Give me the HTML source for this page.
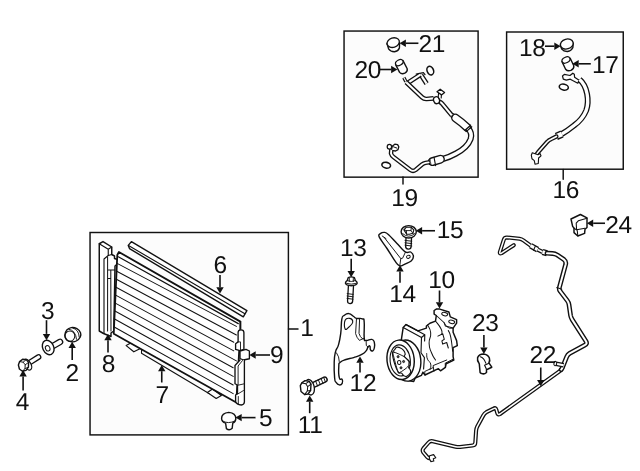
<!DOCTYPE html>
<html lang="en">
<head>
<meta charset="utf-8">
<title>A/C Condenser, Compressor &amp; Lines parts diagram</title>
<style>
html,body{margin:0;padding:0;background:#fff;}
body{width:640px;height:471px;overflow:hidden;}
svg{display:block;filter:grayscale(1);}
svg text{font-family:"Liberation Sans",sans-serif;fill:#111;letter-spacing:-0.3px;text-rendering:geometricPrecision;}
</style>
</head>
<body>
<svg width="640" height="471" viewBox="0 0 640 471">
<rect x="0" y="0" width="640" height="471" fill="#fff"/>
<rect x="344.05" y="31.05" width="134.05" height="146.10" stroke="#111" stroke-width="1.45" fill="#fcfcfc"/>
<path d="M403 177V184" stroke="#111" stroke-width="1.46" fill="none" stroke-linejoin="round" stroke-linecap="round" />
<rect x="506.6" y="32" width="116.65" height="137.20" stroke="#111" stroke-width="1.45" fill="#fcfcfc"/>
<path d="M563.2 169.5V179.3" stroke="#111" stroke-width="1.46" fill="none" stroke-linejoin="round" stroke-linecap="round" />
<rect x="90.05" y="232.5" width="198.35" height="202.40" stroke="#111" stroke-width="1.45" fill="#fcfcfc"/>
<path d="M288.5 328.9H298" stroke="#111" stroke-width="1.46" fill="none" stroke-linejoin="round" stroke-linecap="round" />
<path d="M99.25 243.75L103 241.6L111.75 247L111.75 254.5L114.5 256L114.5 258.5L117.5 259.5L117.3 264L115 266L113.8 331L111 333L111 336.5L103.5 333.5L99.25 331Z" stroke="#111" stroke-width="1.46" fill="#fff" stroke-linejoin="round" stroke-linecap="round" />
<path d="M99.25 243.75L108.25 249.3L111.75 247M108.25 249.3L108.25 255.5L104 259L104 333.5" stroke="#111" stroke-width="1.12" fill="none" stroke-linejoin="round" stroke-linecap="round" />
<path d="M108.25 255.5L111.75 254.5M107.6 257L107.6 331M107.6 270H114.8M110.8 270V278.5H107.6M110.8 278.5L111 331" stroke="#111" stroke-width="1.01" fill="none" stroke-linejoin="round" stroke-linecap="round" />
<path d="M126.2 345.6L133.8 351.8L140.4 348.4L132.5 342Z" stroke="#111" stroke-width="1.18" fill="#fff" stroke-linejoin="round" stroke-linecap="round" />
<path d="M207.4 392.6L216.2 398.4L221.4 395.4L212.5 389Z" stroke="#111" stroke-width="1.18" fill="#fff" stroke-linejoin="round" stroke-linecap="round" />
<path d="M118.9 252L240.4 321.6L240.4 329L236.3 402.5L113.75 333.75L117.3 255Z" stroke="#111" stroke-width="1.79" fill="#fff" stroke-linejoin="round" stroke-linecap="round" />
<path d="M118.3 256.8L238.3 323.6" stroke="#111" stroke-width="1.23" fill="none" stroke-linejoin="round" stroke-linecap="round" />
<path d="M116.64 263.10L236.40 326.41" stroke="#111" stroke-width="1.01" fill="none" stroke-linejoin="round" stroke-linecap="round" />
<path d="M116.28 271.05L236.40 335.03" stroke="#111" stroke-width="1.01" fill="none" stroke-linejoin="round" stroke-linecap="round" />
<path d="M115.92 279.00L233.80 342.25" stroke="#111" stroke-width="1.01" fill="none" stroke-linejoin="round" stroke-linecap="round" />
<path d="M115.56 286.95L233.80 350.87" stroke="#111" stroke-width="1.01" fill="none" stroke-linejoin="round" stroke-linecap="round" />
<path d="M115.20 294.90L236.40 360.90" stroke="#111" stroke-width="1.01" fill="none" stroke-linejoin="round" stroke-linecap="round" />
<path d="M114.85 302.85L233.20 367.78" stroke="#111" stroke-width="1.01" fill="none" stroke-linejoin="round" stroke-linecap="round" />
<path d="M114.49 310.80L233.20 376.40" stroke="#111" stroke-width="1.01" fill="none" stroke-linejoin="round" stroke-linecap="round" />
<path d="M114.13 318.75L233.20 385.02" stroke="#111" stroke-width="1.01" fill="none" stroke-linejoin="round" stroke-linecap="round" />
<path d="M113.77 326.70L233.20 393.65" stroke="#111" stroke-width="1.01" fill="none" stroke-linejoin="round" stroke-linecap="round" />
<path d="M131.4 241.6L246.9 310.6L243.3 316.8L129.5 248.6L128.25 245.4Z" stroke="#111" stroke-width="1.4" fill="#fff" stroke-linejoin="round" stroke-linecap="round" />
<path d="M128.5 245.5L244.9 313.7" stroke="#111" stroke-width="1.12" fill="none" stroke-linejoin="round" stroke-linecap="round" />
<path d="M141.5 353.2L209 393.6M141.5 353.2L141.6 349.6" stroke="#111" stroke-width="1.12" fill="none" stroke-linejoin="round" stroke-linecap="round" />
<path d="M240.4 321.6V329.5" stroke="#111" stroke-width="1.34" fill="none" stroke-linejoin="round" stroke-linecap="round" />
<path d="M238.1 332.5Q238.1 329.8 241 329.8Q243.9 329.8 243.9 332.5L243.9 349.5L240 350.6L235.6 349.4L235.6 343.75L238.1 341.9Z" stroke="#111" stroke-width="1.34" fill="#fff" stroke-linejoin="round" stroke-linecap="round" />
<path d="M238.1 341.9H240.5V349.8" stroke="#111" stroke-width="0.9" fill="none" stroke-linejoin="round" stroke-linecap="round" />
<path d="M240 351L246 349.3L249.4 351L249.4 358.75L243.4 360L240 358.5Z" stroke="#111" stroke-width="1.34" fill="#fff" stroke-linejoin="round" stroke-linecap="round" />
<path d="M240 360L235 365.5L235 383.75L237.5 385L237.5 393.75L235.6 395L235.6 401.5Q236.5 404.5 241.25 405Q244.2 404.8 244.4 402L244.4 360" stroke="#111" stroke-width="1.34" fill="#fff" stroke-linejoin="round" stroke-linecap="round" />
<path d="M242.5 360.5L238.1 366L238.1 384.5M238.1 385.2L244.2 383.8M237.8 394L243.5 390.5L244.3 390.5M238.3 396.5V403.8" stroke="#111" stroke-width="0.9" fill="none" stroke-linejoin="round" stroke-linecap="round" />
<path d="M221.6 418.5Q221.6 413 228.8 412.4Q235.8 413 235.8 418.5Q235.8 422 232.8 423L232.2 428.2Q229.4 431 226.4 428.6L225.6 423.2Q221.6 422 221.6 418.5Z" stroke="#111" stroke-width="1.4" fill="#fff" stroke-linejoin="round" stroke-linecap="round" />
<path d="M222.4 420.8Q228 424.6 235.2 420.8" stroke="#111" stroke-width="0.95" fill="none" stroke-linejoin="round" stroke-linecap="round" />
<path d="M64.80 335.30C64.80 332.77 64.99 332.25 66.70 330.20C68.41 328.15 68.48 328.00 71.20 327.60C73.92 327.20 74.42 327.34 76.90 328.70C79.38 330.06 79.65 330.43 80.50 332.70C81.35 334.97 81.22 334.99 80.10 337.20C78.98 339.41 78.67 339.80 76.30 341.00C73.93 342.20 73.76 342.05 71.20 341.70C68.64 341.35 68.41 341.41 66.70 339.70C64.99 337.99 64.80 337.83 64.80 335.30Z" stroke="#111" stroke-width="1.4" fill="#fff" stroke-linejoin="round" stroke-linecap="round" />
<ellipse cx="69.9" cy="336.1" rx="4.9" ry="5.2" transform="rotate(0 69.9 336.1)" stroke="#111" stroke-width="1.01" fill="none"/>
<path d="M68.7 329.2Q75.6 330.2 76.5 339.2M72.6 327.9Q79 329.6 79.2 337" stroke="#111" stroke-width="0.95" fill="none" stroke-linejoin="round" stroke-linecap="round" />
<path d="M53 346L60 341.9" stroke="#111" stroke-width="6.6" fill="none" stroke-linecap="round" stroke-linejoin="round"/>
<path d="M53 346L60 341.9" stroke="#fff" stroke-width="4.0" fill="none" stroke-linecap="round" stroke-linejoin="round"/>
<ellipse cx="48.2" cy="347.5" rx="5.5" ry="7.5" transform="rotate(-25 48.2 347.5)" stroke="#111" stroke-width="1.4" fill="#fff"/>
<ellipse cx="47.7" cy="348.3" rx="2.2" ry="2.8" transform="rotate(-25 47.7 348.3)" stroke="#111" stroke-width="1.01" fill="#fff"/>
<path d="M30 362.4L38.5 357" stroke="#111" stroke-width="5.8" fill="none" stroke-linecap="round" stroke-linejoin="round"/>
<path d="M30 362.4L38.5 357" stroke="#fff" stroke-width="3.2" fill="none" stroke-linecap="round" stroke-linejoin="round"/>
<ellipse cx="27.6" cy="364.6" rx="3.3" ry="5.9" transform="rotate(-30 27.6 364.6)" stroke="#111" stroke-width="1.29" fill="#fff"/>
<path d="M18.4 365L19.6 361.6L22.6 359.2L26.2 359.6L28.6 362.4L28.4 367.2L26 370.4L22.4 371.2L19.4 369Z" stroke="#111" stroke-width="1.4" fill="#fff" stroke-linejoin="round" stroke-linecap="round" />
<path d="M19.6 361.6L23.2 362.2L25.2 364.8L25 368.6L22.4 371.2M23.2 362.2L26.2 359.6M25.2 364.8L28.6 362.4M25 368.6L28.4 367.2" stroke="#111" stroke-width="0.95" fill="none" stroke-linejoin="round" stroke-linecap="round" />
<path d="M311 386.2L324.6 379.7" stroke="#111" stroke-width="6.4" fill="none" stroke-linecap="round" stroke-linejoin="round"/>
<path d="M311 386.2L324.6 379.7" stroke="#fff" stroke-width="3.6" fill="none" stroke-linecap="round" stroke-linejoin="round"/>
<path d="M315.6 381L317.6 386M318.3 379.7L320.3 384.7M321 378.4L323 383.4M323.6 377.2L325.4 382" stroke="#111" stroke-width="0.95" fill="none" stroke-linejoin="round" stroke-linecap="round" />
<ellipse cx="309.6" cy="387.2" rx="4.6" ry="7.9" transform="rotate(-14 309.6 387.2)" stroke="#111" stroke-width="1.34" fill="#fff"/>
<path d="M300.3 385.6L301.8 382.9L305 380.6L309.2 381.3L311 384.2L310.6 390.6L308 394L304.6 394.6L301 391.4Z" stroke="#111" stroke-width="1.4" fill="#fff" stroke-linejoin="round" stroke-linecap="round" />
<path d="M301.8 382.9L305.8 383.7L307.7 386.7L307.3 391L304.6 394.6M305.8 383.7L309.2 381.3M307.7 386.7L311 384.2M307.3 391L310.6 390.6" stroke="#111" stroke-width="1.01" fill="none" stroke-linejoin="round" stroke-linecap="round" />
<path d="M351 285L350.1 301" stroke="#111" stroke-width="6.4" fill="none" stroke-linecap="round" stroke-linejoin="round"/>
<path d="M351 285L350.1 301" stroke="#fff" stroke-width="3.8" fill="none" stroke-linecap="round" stroke-linejoin="round"/>
<path d="M347.2 293.6L353.2 294.4M347.1 296L353.1 296.8M347 298.4L353 299.2" stroke="#111" stroke-width="0.95" fill="none" stroke-linejoin="round" stroke-linecap="round" />
<path d="M345.4 283.2Q345.6 281.4 347.2 280.6L348.2 277.6Q351.2 276.2 354.4 277.6L355.4 280.6Q357 281.4 357.2 283.2Q356.6 285.6 351.3 285.8Q346 285.6 345.4 283.2Z" stroke="#111" stroke-width="1.4" fill="#fff" stroke-linejoin="round" stroke-linecap="round" />
<path d="M347.2 280.6Q351.3 282.6 355.4 280.6M349.3 278.4V281.6M353.3 278.4V281.6M346.6 283.4Q351.3 285 356 283.4" stroke="#111" stroke-width="0.9" fill="none" stroke-linejoin="round" stroke-linecap="round" />
<path d="M408.8 237L408.4 246.4" stroke="#111" stroke-width="6.8" fill="none" stroke-linecap="round" stroke-linejoin="round"/>
<path d="M408.8 237L408.4 246.4" stroke="#fff" stroke-width="4.2" fill="none" stroke-linecap="round" stroke-linejoin="round"/>
<path d="M405 240.4L411.8 241.2M405 242.8L411.8 243.6M405 245.2L411.8 246" stroke="#111" stroke-width="0.95" fill="none" stroke-linejoin="round" stroke-linecap="round" />
<ellipse cx="408.7" cy="231.8" rx="7.6" ry="6.2" transform="rotate(0 408.7 231.8)" stroke="#111" stroke-width="1.4" fill="#fff"/>
<path d="M404 229.9L406.1 227.3L411.2 227.3L413.8 229.9L412.9 233.3L409.4 234.3L406.6 234.1Z" stroke="#111" stroke-width="1.12" fill="#fff" stroke-linejoin="round" stroke-linecap="round" />
<path d="M406.6 234.1L406.4 230.6L404 229.9M406.4 230.6L411 230.6L412.9 233.3M411 230.6L411.2 227.3" stroke="#111" stroke-width="0.9" fill="none" stroke-linejoin="round" stroke-linecap="round" />
<path d="M402.6 233.6Q408.7 239 414.8 233.6" stroke="#111" stroke-width="0.9" fill="none" stroke-linejoin="round" stroke-linecap="round" />
<path d="M379.20 236.90C377.97 234.17 379.29 234.42 380.30 233.60C381.31 232.78 383.18 232.20 384.70 232.40C386.22 232.60 386.35 232.68 388.60 234.70C390.86 236.72 393.90 240.23 397.00 243.40C400.10 246.57 402.99 250.42 405.50 252.00C408.01 253.58 409.25 251.25 410.70 252.00C412.15 252.75 413.27 254.51 413.40 256.10C413.53 257.69 413.12 259.14 411.40 260.70C409.68 262.26 406.16 263.65 404.00 264.60C401.84 265.55 401.10 266.34 399.60 265.90C398.10 265.46 398.11 265.39 395.80 262.20C393.49 259.01 390.04 253.14 387.00 248.50C383.96 243.86 380.43 239.63 379.20 236.90Z" stroke="#111" stroke-width="1.4" fill="#fff" stroke-linejoin="round" stroke-linecap="round" />
<path d="M382.2 236L386 238.6M384 237.2L400.8 258.6L399.8 265.6M405.5 252L402.6 258.2L400.8 258.6" stroke="#111" stroke-width="0.95" fill="none" stroke-linejoin="round" stroke-linecap="round" />
<ellipse cx="408.4" cy="256.8" rx="1.9" ry="1.5" transform="rotate(-20 408.4 256.8)" stroke="#111" stroke-width="0.95" fill="#fff"/>
<path d="M341.80 319.30C342.71 314.45 342.21 317.02 344.10 315.50C345.99 313.98 346.34 313.33 348.90 313.60C351.46 313.87 351.67 315.22 353.70 316.50C355.73 317.78 354.21 317.79 356.50 318.40C358.79 319.01 360.25 317.79 362.30 318.80C364.35 319.81 363.69 317.21 364.20 322.20C364.71 327.19 363.69 332.65 364.20 337.50C364.71 342.35 364.07 339.89 366.10 340.40C368.13 340.91 369.61 338.89 371.80 339.40C373.99 339.91 373.63 340.01 374.30 342.30C374.97 344.59 374.70 345.71 374.30 348.00C373.90 350.29 373.81 350.39 372.80 350.90C371.79 351.41 371.27 351.18 370.50 349.90C369.73 348.62 370.57 346.87 369.90 346.10C369.23 345.33 369.01 345.72 368.00 347.00C366.99 348.28 367.89 348.85 366.10 350.90C364.31 352.95 364.61 352.91 361.30 354.70C357.99 356.49 357.78 356.32 353.70 357.60C349.62 358.88 349.57 358.25 346.00 359.50C342.43 360.75 342.22 360.51 340.30 362.30C338.38 364.09 339.07 362.12 338.80 366.20C338.53 370.28 338.39 374.05 339.30 377.60C340.21 381.15 341.43 377.98 342.20 379.50C342.97 381.02 342.97 381.86 342.20 383.30C341.43 384.74 340.93 385.14 339.30 384.90C337.67 384.66 337.35 384.35 336.10 382.40C334.85 380.45 335.11 382.96 334.60 377.60C334.09 372.24 333.96 369.18 334.20 362.30C334.44 355.42 334.38 356.39 335.50 351.80C336.62 347.21 337.01 349.93 338.40 345.10C339.79 340.27 339.79 340.58 340.70 333.70C341.61 326.82 340.89 324.15 341.80 319.30Z" stroke="#111" stroke-width="1.4" fill="#fff" stroke-linejoin="round" stroke-linecap="round" />
<path d="M345.10 320.30C346.20 317.85 348.03 317.96 349.80 318.40C351.57 318.84 352.91 320.19 352.70 322.20C352.49 324.21 350.67 325.44 348.90 327.00C347.13 328.56 345.99 330.46 345.10 328.90C344.21 327.34 344.00 322.75 345.10 320.30Z" stroke="#111" stroke-width="1.12" fill="none" stroke-linejoin="round" stroke-linecap="round" />
<path d="M356.5 318.6L355.6 333.6Q356.5 337.5 359.4 340.4L364 338.2M359.6 318.8L359 333.4Q359.6 336.6 363 339.3" stroke="#111" stroke-width="0.95" fill="none" stroke-linejoin="round" stroke-linecap="round" />
<path d="M336.5 352.8Q339.3 356.5 339.3 361.5M366.1 340.4L366.3 345.5L368 347" stroke="#111" stroke-width="0.95" fill="none" stroke-linejoin="round" stroke-linecap="round" />
<path d="M434.1 310.5L436.3 309.1L439.8 309.1L448.9 312L450.3 316.9L456.6 319.7L456.6 323.2L453.1 328.1L453.1 332.3L456.6 340.6L457.3 345.6L453.1 347.7L453.1 356.7L453.8 360.2L446.1 363.75L445.4 367.3L440.5 370.8L438.4 368.7L425 375L422.9 372.2L421.5 375.3L415.2 378L413.7 381.5L405 380L398 362L403.2 327.4L406 324.6L418 330.9L426.4 328.1L426.4 326L429.9 323.2L435.5 321.1L436.3 315.5L434.1 314.1Z" stroke="#111" stroke-width="1.46" fill="#fff" stroke-linejoin="round" stroke-linecap="round" />
<ellipse cx="444.7" cy="314.1" rx="3.0" ry="1.7" transform="rotate(12 444.7 314.1)" stroke="#111" stroke-width="1.01" fill="#fff"/>
<ellipse cx="451.7" cy="321.8" rx="3.0" ry="1.7" transform="rotate(12 451.7 321.8)" stroke="#111" stroke-width="1.01" fill="#fff"/>
<path d="M436.3 315.5L444 322.5L445.4 326L453.1 328.1" stroke="#111" stroke-width="1.01" fill="none" stroke-linejoin="round" stroke-linecap="round" />
<path d="M444 322.5L446.6 326.5Q449.5 329.5 453.1 328.3" stroke="#111" stroke-width="0.78" fill="none" stroke-linejoin="round" stroke-linecap="round" />
<path d="M403.2 327.4L421.5 337.5L421 352.8L424.4 357.6L423.6 369M406 324.6L424.8 334.8L421.5 337.5M424.8 334.8L424.6 341" stroke="#111" stroke-width="1.12" fill="none" stroke-linejoin="round" stroke-linecap="round" />
<path d="M427.50 324.90C428.46 327.30 430.22 327.38 430.70 332.90C431.18 338.42 428.86 337.33 429.10 343.30C429.34 349.27 429.58 347.79 431.50 352.80C433.42 357.81 434.30 357.84 435.50 360.00" stroke="#111" stroke-width="1.01" fill="none" stroke-linejoin="round" stroke-linecap="round" />
<path d="M435.50 321.00C437.18 323.37 439.18 325.09 441.10 328.90C443.02 332.71 441.66 332.26 441.90 333.70" stroke="#111" stroke-width="1.01" fill="none" stroke-linejoin="round" stroke-linecap="round" />
<path d="M437.9 336.1L442.7 333.7L444.3 339.3L441.9 340.9L442.7 344.1L446.7 342.5L448.3 348" stroke="#111" stroke-width="1.06" fill="none" stroke-linejoin="round" stroke-linecap="round" />
<path d="M448.30 330.50C449.02 332.42 449.38 330.66 450.70 336.90C452.02 343.14 452.10 346.98 452.70 351.30" stroke="#111" stroke-width="1.01" fill="none" stroke-linejoin="round" stroke-linecap="round" />
<path d="M426.70 353.60C426.94 355.28 426.30 356.08 427.50 359.20C428.70 362.32 429.98 360.88 430.70 364.00C431.42 367.12 430.14 367.92 429.90 369.60" stroke="#111" stroke-width="0.95" fill="none" stroke-linejoin="round" stroke-linecap="round" />
<path d="M425 375L424.7 371.5L433.1 367.6M433.9 371.2L433.1 365.6L446.7 360M445.4 367.3L445.2 363.2L453.1 359.2" stroke="#111" stroke-width="0.95" fill="none" stroke-linejoin="round" stroke-linecap="round" />
<ellipse cx="406.4" cy="360.6" rx="14.4" ry="20.6" transform="rotate(-6 406.4 360.6)" stroke="#111" stroke-width="1.4" fill="#fff"/>
<ellipse cx="400.6" cy="359.8" rx="13.6" ry="19.8" transform="rotate(-6 400.6 359.8)" stroke="#111" stroke-width="1.46" fill="#fff"/>
<ellipse cx="400.2" cy="360.4" rx="10.1" ry="15.6" transform="rotate(-6 400.2 360.4)" stroke="#111" stroke-width="1.12" fill="#fff"/>
<path d="M392.50 353.50C392.50 350.28 393.62 351.25 394.60 349.80C395.58 348.35 395.46 347.79 396.70 347.30C397.94 346.81 398.29 347.00 399.90 347.70C401.51 348.40 402.36 348.83 403.60 350.30C404.84 351.77 405.01 352.53 405.20 354.00C405.39 355.47 403.54 354.99 404.40 356.60C405.26 358.21 407.59 359.03 408.90 360.90C410.21 362.77 410.07 363.11 410.00 364.60C409.93 366.09 408.53 366.04 408.60 367.30C408.67 368.56 409.90 368.65 410.30 370.00C410.70 371.35 411.12 371.63 410.30 373.10C409.48 374.57 408.36 375.74 406.80 376.30C405.24 376.86 404.84 376.25 403.60 375.50C402.36 374.75 402.74 373.89 401.50 373.10C400.26 372.31 399.91 374.32 398.30 372.10C396.69 369.88 395.95 367.94 394.60 363.60C393.25 359.26 392.50 356.72 392.50 353.50Z" stroke="#111" stroke-width="1.12" fill="#fff" stroke-linejoin="round" stroke-linecap="round" />
<path d="M394.10 352.20C395.75 352.55 402.01 355.31 404.20 356.70C406.39 358.09 408.18 359.99 408.70 361.50C409.22 363.01 409.02 365.17 407.70 366.80C406.38 368.44 401.38 371.72 399.90 372.40C398.41 373.07 398.81 374.00 397.80 371.30C396.80 368.60 393.75 357.26 393.20 354.40C392.64 351.53 392.45 351.85 394.10 352.20Z" stroke="#111" stroke-width="0.95" fill="none" stroke-linejoin="round" stroke-linecap="round" />
<ellipse cx="399.2" cy="362.5" rx="1.7" ry="2.0" transform="rotate(-10 399.2 362.5)" stroke="#111" stroke-width="1.01" fill="#fff"/>
<ellipse cx="398.1" cy="356.7" rx="1.0" ry="1.1" transform="rotate(0 398.1 356.7)" stroke="#111" stroke-width="0.9" fill="#555"/>
<ellipse cx="403.6" cy="361.5" rx="1.0" ry="1.1" transform="rotate(0 403.6 361.5)" stroke="#111" stroke-width="0.9" fill="#555"/>
<ellipse cx="401" cy="367.8" rx="1.0" ry="1.1" transform="rotate(0 401 367.8)" stroke="#111" stroke-width="0.9" fill="#555"/>
<path d="M479.3 363.9Q476.8 360.6 477.6 357.6Q479.2 354 483.4 353.9Q487.6 354.2 489.3 357.8Q490.3 360.6 488.9 362.9L491.8 367.2L487.5 369.2L486.5 369.6L486.5 372.5Q484.6 374.2 482.6 373.8Q480.8 373.6 480.1 372.5Z" stroke="#111" stroke-width="1.51" fill="#fff" stroke-linejoin="round" stroke-linecap="round" />
<path d="M480.3 356.7Q484 357.6 485.8 363.2M484.6 365.3L488.9 363.2M484.6 365.3L486.6 369.4" stroke="#111" stroke-width="1.12" fill="none" stroke-linejoin="round" stroke-linecap="round" />
<path d="M571 219L580.4 214.5L587 217.9L587 227.5L585 229.2L584.6 233.4L577.8 236L574 232.6L574 227.9L572.7 226.6Z" stroke="#111" stroke-width="1.46" fill="#fff" stroke-linejoin="round" stroke-linecap="round" />
<path d="M587 218.3L578.3 220.8L576.2 223.2L576.6 229.8L585 228.2M574 228.2L576.8 230M577.2 230L577.8 235.8" stroke="#111" stroke-width="1.06" fill="none" stroke-linejoin="round" stroke-linecap="round" />
<path d="M387 43.6L388.6 48.8Q390.4 51.6 394.4 51.7Q398.2 51.3 399.4 48L399.6 42.6Z" stroke="#111" stroke-width="1.4" fill="#fff" stroke-linejoin="round" stroke-linecap="round" />
<ellipse cx="393.2" cy="42.6" rx="6.3" ry="4.7" transform="rotate(-18 393.2 42.6)" stroke="#111" stroke-width="1.34" fill="#fff"/>
<path d="M395.6 64.6L399.6 72.4Q401.6 74.6 404.8 73.2Q407.8 71.4 407.2 68.8L403 60.6Z" stroke="#111" stroke-width="1.4" fill="#fff" stroke-linejoin="round" stroke-linecap="round" />
<ellipse cx="399.3" cy="62.6" rx="4.0" ry="2.7" transform="rotate(-28 399.3 62.6)" stroke="#111" stroke-width="1.23" fill="#fff"/>
<ellipse cx="430.3" cy="70.6" rx="3.2" ry="4.4" transform="rotate(-22 430.3 70.6)" stroke="#111" stroke-width="1.57" fill="#fff"/>
<ellipse cx="386.2" cy="165.2" rx="4.4" ry="2.9" transform="rotate(12 386.2 165.2)" stroke="#111" stroke-width="1.57" fill="#fff"/>
<path d="M421 75L426.6 83.6" stroke="#111" stroke-width="4.8" fill="none" stroke-linecap="butt" stroke-linejoin="round"/>
<path d="M421 75L426.6 83.6" stroke="#fff" stroke-width="2.2" fill="none" stroke-linecap="butt" stroke-linejoin="round"/>
<path d="M416.2 74.2L423.4 72.7L425 74.6" stroke="#111" stroke-width="1.23" fill="none" stroke-linejoin="round" stroke-linecap="round" />
<path d="M407.6 83L420.4 74.7" stroke="#111" stroke-width="4.7" fill="none" stroke-linecap="butt" stroke-linejoin="round"/>
<path d="M407.6 83L420.4 74.7" stroke="#fff" stroke-width="2.1" fill="none" stroke-linecap="butt" stroke-linejoin="round"/>
<path d="M403.8 77.6L405.9 81.6" stroke="#111" stroke-width="3.4" fill="none" stroke-linecap="butt" stroke-linejoin="round"/>
<path d="M403.8 77.6L405.9 81.6" stroke="#fff" stroke-width="1.1" fill="none" stroke-linecap="butt" stroke-linejoin="round"/>
<path d="M406.2 82.2L422 97.3Q424 99.2 426.6 99L433.6 98.4" stroke="#111" stroke-width="4.7" fill="none" stroke-linecap="butt" stroke-linejoin="round"/>
<path d="M406.2 82.2L422 97.3Q424 99.2 426.6 99L433.6 98.4" stroke="#fff" stroke-width="2.1" fill="none" stroke-linecap="butt" stroke-linejoin="round"/>
<path d="M439.4 101.6Q441.5 102.6 442.8 104.4L452 115.6" stroke="#111" stroke-width="4.7" fill="none" stroke-linecap="butt" stroke-linejoin="round"/>
<path d="M439.4 101.6Q441.5 102.6 442.8 104.4L452 115.6" stroke="#fff" stroke-width="2.1" fill="none" stroke-linecap="butt" stroke-linejoin="round"/>
<path d="M437 91.7L440.2 89.2L444.6 92.4L441.5 94.9Z" stroke="#111" stroke-width="1.29" fill="#fff" stroke-linejoin="round" stroke-linecap="round" />
<path d="M438.6 93L438.2 97.2M441.4 95L441.2 98" stroke="#111" stroke-width="1.12" fill="none" stroke-linejoin="round" stroke-linecap="round" />
<ellipse cx="436.6" cy="100.2" rx="3.0" ry="3.5" transform="rotate(-20 436.6 100.2)" stroke="#111" stroke-width="1.34" fill="#fff"/>
<path d="M438.4 97.6Q440.4 99.6 439.2 102.8" stroke="#111" stroke-width="0.95" fill="none" stroke-linejoin="round" stroke-linecap="round" />
<path d="M452 115L455 117.6" stroke="#111" stroke-width="5.2" fill="none" stroke-linecap="butt" stroke-linejoin="round"/>
<path d="M452 115L455 117.6" stroke="#fff" stroke-width="2.6" fill="none" stroke-linecap="butt" stroke-linejoin="round"/>
<path d="M455.5 118Q462 122.5 467.3 127.6" stroke="#111" stroke-width="8.8" fill="none" stroke-linecap="round" stroke-linejoin="round"/>
<path d="M455.5 118Q462 122.5 467.3 127.6" stroke="#fff" stroke-width="6.0" fill="none" stroke-linecap="round" stroke-linejoin="round"/>
<path d="M467.8 128Q472.6 133 470.6 139Q467.5 147.5 456 153.5Q450 157 442 159.2" stroke="#111" stroke-width="6.2" fill="none" stroke-linecap="butt" stroke-linejoin="round"/>
<path d="M467.8 128Q472.6 133 470.6 139Q467.5 147.5 456 153.5Q450 157 442 159.2" stroke="#fff" stroke-width="3.6" fill="none" stroke-linecap="butt" stroke-linejoin="round"/>
<path d="M465 130.2L470.6 125.2M466.2 131.6L471.8 126.8" stroke="#111" stroke-width="1.23" fill="none" stroke-linejoin="round" stroke-linecap="round" />
<path d="M440.4 159.2L432.4 161.6" stroke="#111" stroke-width="9.0" fill="none" stroke-linecap="round" stroke-linejoin="round"/>
<path d="M440.4 159.2L432.4 161.6" stroke="#fff" stroke-width="6.2" fill="none" stroke-linecap="round" stroke-linejoin="round"/>
<path d="M434 157.2L435.6 165.6" stroke="#111" stroke-width="1.12" fill="none" stroke-linejoin="round" stroke-linecap="round" />
<path d="M431 162L428.6 162.4" stroke="#111" stroke-width="5.4" fill="none" stroke-linecap="butt" stroke-linejoin="round"/>
<path d="M431 162L428.6 162.4" stroke="#fff" stroke-width="2.8" fill="none" stroke-linecap="butt" stroke-linejoin="round"/>
<path d="M428.6 162.4L425.5 162.9Q423.5 163.3 422 164.5L415.5 170Q413 171.8 410.5 170L393.5 157Q391.5 155.5 391 153.5L391.4 149" stroke="#111" stroke-width="4.5" fill="none" stroke-linecap="round" stroke-linejoin="round"/>
<path d="M428.6 162.4L425.5 162.9Q423.5 163.3 422 164.5L415.5 170Q413 171.8 410.5 170L393.5 157Q391.5 155.5 391 153.5L391.4 149" stroke="#fff" stroke-width="1.9" fill="none" stroke-linecap="round" stroke-linejoin="round"/>
<path d="M391.6 149.2L392.2 146.2L394.8 144.2L397.6 144.6L398.8 146.8L398 149.6L395.6 151L393 150.6" stroke="#111" stroke-width="1.34" fill="#fff" stroke-linejoin="round" stroke-linecap="round" />
<ellipse cx="389.4" cy="146.7" rx="2.2" ry="2.4" transform="rotate(0 389.4 146.7)" stroke="#111" stroke-width="1.23" fill="#fff"/>
<path d="M393 146.6L396.6 148" stroke="#111" stroke-width="1.01" fill="none" stroke-linejoin="round" stroke-linecap="round" />
<path d="M560.4 45.2L561.8 49.2Q563.6 51.6 567.4 51.5Q571.4 51 572.8 47.8L573.3 43.2Z" stroke="#111" stroke-width="1.4" fill="#fff" stroke-linejoin="round" stroke-linecap="round" />
<ellipse cx="566.8" cy="44" rx="6.5" ry="4.9" transform="rotate(-16 566.8 44)" stroke="#111" stroke-width="1.34" fill="#fff"/>
<path d="M562 61.6L565.6 69.2Q567.6 71.6 570.9 70.4Q574.3 68.6 573.8 65.8L570.2 58.2Z" stroke="#111" stroke-width="1.4" fill="#fff" stroke-linejoin="round" stroke-linecap="round" />
<ellipse cx="566" cy="60" rx="4.2" ry="2.8" transform="rotate(-25 566 60)" stroke="#111" stroke-width="1.23" fill="#fff"/>
<ellipse cx="563.8" cy="87.1" rx="4.6" ry="2.9" transform="rotate(12 563.8 87.1)" stroke="#111" stroke-width="1.57" fill="#fff"/>
<path d="M562.5 76L564.3 74.4L570 75.5L572.8 73.2L574.3 74.2L574.6 77.3L579.5 80.4L577.8 83.2L572.6 80.5L570.3 79.2L566.3 80.2L563.3 79.2Z" stroke="#111" stroke-width="1.23" fill="#fff" stroke-linejoin="round" stroke-linecap="round" />
<path d="M579.6 79.6Q585.3 84.5 587.1 94Q588.8 103 586.2 110.5Q582.5 119.5 574 125.5Q568 130.4 561.2 134.4" stroke="#111" stroke-width="5.9" fill="none" stroke-linecap="butt" stroke-linejoin="round"/>
<path d="M579.6 79.6Q585.3 84.5 587.1 94Q588.8 103 586.2 110.5Q582.5 119.5 574 125.5Q568 130.4 561.2 134.4" stroke="#fff" stroke-width="3.3" fill="none" stroke-linecap="butt" stroke-linejoin="round"/>
<path d="M562 134L556.4 136.4" stroke="#111" stroke-width="7.6" fill="none" stroke-linecap="butt" stroke-linejoin="round"/>
<path d="M562 134L556.4 136.4" stroke="#fff" stroke-width="4.8" fill="none" stroke-linecap="butt" stroke-linejoin="round"/>
<path d="M556.4 136.5L551 139.2Q548.8 140 547.3 141.8L537.8 152.5Q536.3 154 536.3 156" stroke="#111" stroke-width="4.3" fill="none" stroke-linecap="round" stroke-linejoin="round"/>
<path d="M556.4 136.5L551 139.2Q548.8 140 547.3 141.8L537.8 152.5Q536.3 154 536.3 156" stroke="#fff" stroke-width="1.7" fill="none" stroke-linecap="round" stroke-linejoin="round"/>
<path d="M531.3 155.2L532.3 152.8L538 154.8L540 153.6L541 155.8L538.6 158L538.3 163.5L535 164.2L534.3 160.6L532 158.8Z" stroke="#111" stroke-width="1.12" fill="#fff" stroke-linejoin="round" stroke-linecap="round" />
<path d="M513.8 245.2L501.5 253.2Q499.3 254.2 499.9 251.8L503.9 239.4Q504.6 237.4 506.8 237.5L519.5 238.7Q521.6 239 523.4 240.3L530.6 245.7" stroke="#111" stroke-width="4.0" fill="none" stroke-linecap="round" stroke-linejoin="round"/>
<path d="M513.8 245.2L501.5 253.2Q499.3 254.2 499.9 251.8L503.9 239.4Q504.6 237.4 506.8 237.5L519.5 238.7Q521.6 239 523.4 240.3L530.6 245.7" stroke="#fff" stroke-width="1.5" fill="none" stroke-linecap="round" stroke-linejoin="round"/>
<path d="M530.6 245.7L537.6 249.6" stroke="#111" stroke-width="5.8" fill="none" stroke-linecap="butt" stroke-linejoin="round"/>
<path d="M530.6 245.7L537.6 249.6" stroke="#fff" stroke-width="3.2" fill="none" stroke-linecap="butt" stroke-linejoin="round"/>
<path d="M535.3 246.2L533.5 250.2" stroke="#111" stroke-width="1.01" fill="none" stroke-linejoin="round" stroke-linecap="round" />
<path d="M537.6 249.6L542.5 252" stroke="#111" stroke-width="4.2" fill="none" stroke-linecap="butt" stroke-linejoin="round"/>
<path d="M537.6 249.6L542.5 252" stroke="#fff" stroke-width="1.7" fill="none" stroke-linecap="butt" stroke-linejoin="round"/>
<path d="M542.5 252L547 253.2" stroke="#111" stroke-width="6.2" fill="none" stroke-linecap="butt" stroke-linejoin="round"/>
<path d="M542.5 252L547 253.2" stroke="#fff" stroke-width="3.4" fill="none" stroke-linecap="butt" stroke-linejoin="round"/>
<path d="M562.3 367.8Q561.4 370 559.4 371.4L500 414Q497.8 415.4 497.2 412.8L496.3 409.6Q495.6 407.4 493.6 408.6L486.4 412.2Q484.4 413.4 483.3 415.4L477.3 426.4Q476.3 428.4 476.1 430.6L475.3 442.6Q475.2 445.2 472.6 445.5L460 447Q457.8 447.2 455.6 446.7L432.6 441.2Q430.2 440.7 428.6 442.5L423.4 448.4Q422 450.2 423.2 452.2L427.6 457.4Q428.8 458.6 430.6 458.2" stroke="#111" stroke-width="4.1" fill="none" stroke-linecap="round" stroke-linejoin="round"/>
<path d="M562.3 367.8Q561.4 370 559.4 371.4L500 414Q497.8 415.4 497.2 412.8L496.3 409.6Q495.6 407.4 493.6 408.6L486.4 412.2Q484.4 413.4 483.3 415.4L477.3 426.4Q476.3 428.4 476.1 430.6L475.3 442.6Q475.2 445.2 472.6 445.5L460 447Q457.8 447.2 455.6 446.7L432.6 441.2Q430.2 440.7 428.6 442.5L423.4 448.4Q422 450.2 423.2 452.2L427.6 457.4Q428.8 458.6 430.6 458.2" stroke="#fff" stroke-width="1.5" fill="none" stroke-linecap="round" stroke-linejoin="round"/>
<path d="M547 253.2L552.5 253.5Q555 253.6 557.3 255L564 259.6Q566.3 261.4 565.7 264.2L559.4 287.4Q558.8 289.6 560.3 291.4L567.3 300.6Q568.7 302.4 569 304.6L570.6 315.6Q571 317.7 572.2 319.6L586 341.2Q587.6 343.8 584.8 345.2L569.6 353.4Q567.6 354.6 566.7 356.8L562.3 367.8Q561.9 368.8 561.2 369.6" stroke="#111" stroke-width="4.8" fill="none" stroke-linecap="round" stroke-linejoin="round"/>
<path d="M547 253.2L552.5 253.5Q555 253.6 557.3 255L564 259.6Q566.3 261.4 565.7 264.2L559.4 287.4Q558.8 289.6 560.3 291.4L567.3 300.6Q568.7 302.4 569 304.6L570.6 315.6Q571 317.7 572.2 319.6L586 341.2Q587.6 343.8 584.8 345.2L569.6 353.4Q567.6 354.6 566.7 356.8L562.3 367.8Q561.9 368.8 561.2 369.6" stroke="#fff" stroke-width="2.0" fill="none" stroke-linecap="round" stroke-linejoin="round"/>
<path d="M556.8 287.4L561.8 289.2" stroke="#111" stroke-width="1.01" fill="none" stroke-linejoin="round" stroke-linecap="round" />
<path d="M563.6 365.2L556 363.7" stroke="#111" stroke-width="4.6" fill="none" stroke-linecap="butt" stroke-linejoin="round"/>
<path d="M563.6 365.2L556 363.7" stroke="#fff" stroke-width="2.0" fill="none" stroke-linecap="butt" stroke-linejoin="round"/>
<ellipse cx="555.3" cy="363.6" rx="1.4" ry="2.2" transform="rotate(10 555.3 363.6)" stroke="#111" stroke-width="1.12" fill="#fff"/>
<path d="M429.6 455.8L433.6 454.6L435.8 457.8L433.3 458.7L433.8 461L430.8 461.6L429.3 458.6Z" stroke="#111" stroke-width="1.12" fill="#fff" stroke-linejoin="round" stroke-linecap="round" />
<text x="418.5" y="52.1" font-size="24.5">21</text>
<text x="354.4" y="78.3" font-size="24.5">20</text>
<text x="391.2" y="205.7" font-size="24.5">19</text>
<text x="519" y="55.7" font-size="24.5">18</text>
<text x="592" y="72.9" font-size="24.5">17</text>
<text x="552.4" y="198.1" font-size="24.5">16</text>
<text x="605.2" y="233.3" font-size="24.5">24</text>
<text x="436.7" y="238.1" font-size="24.5">15</text>
<text x="340" y="256.3" font-size="24.5">13</text>
<text x="389.3" y="301.5" font-size="24.5">14</text>
<text x="428.2" y="288.3" font-size="24.5">10</text>
<text x="472" y="330.6" font-size="24.5">23</text>
<text x="529.5" y="363.1" font-size="24.5">22</text>
<text x="349.6" y="391.3" font-size="24.5">12</text>
<text x="297.8" y="432.9" font-size="24.5">11</text>
<text x="300.2" y="336.1" font-size="24.5">1</text>
<text x="270" y="362.8" font-size="24.5">9</text>
<text x="213.5" y="272.6" font-size="24.5">6</text>
<text x="101.7" y="372.1" font-size="24.5">8</text>
<text x="155.5" y="403.3" font-size="24.5">7</text>
<text x="259" y="426.3" font-size="24.5">5</text>
<text x="41" y="319.1" font-size="24.5">3</text>
<text x="65.5" y="380.6" font-size="24.5">2</text>
<text x="15.7" y="409.8" font-size="24.5">4</text>
<path d="M418.40 43.25L405.90 43.25" stroke="#111" stroke-width="1.6" fill="none"/>
<path d="M399.60 43.25L405.90 39.55L405.90 46.95Z" fill="#111"/>
<path d="M378.75 69.50L391.10 69.50" stroke="#111" stroke-width="1.6" fill="none"/>
<path d="M397.40 69.50L391.10 73.20L391.10 65.80Z" fill="#111"/>
<path d="M545.00 46.20L554.30 46.20" stroke="#111" stroke-width="1.6" fill="none"/>
<path d="M560.60 46.20L554.30 49.90L554.30 42.50Z" fill="#111"/>
<path d="M590.80 63.80L578.70 63.80" stroke="#111" stroke-width="1.6" fill="none"/>
<path d="M572.40 63.80L578.70 60.10L578.70 67.50Z" fill="#111"/>
<path d="M605.00 223.25L593.20 223.25" stroke="#111" stroke-width="1.6" fill="none"/>
<path d="M586.90 223.25L593.20 219.55L593.20 226.95Z" fill="#111"/>
<path d="M435.00 230.75L422.10 230.75" stroke="#111" stroke-width="1.6" fill="none"/>
<path d="M415.80 230.75L422.10 227.05L422.10 234.45Z" fill="#111"/>
<path d="M351.20 258.75L351.20 271.00" stroke="#111" stroke-width="1.6" fill="none"/>
<path d="M351.20 277.30L347.50 271.00L354.90 271.00Z" fill="#111"/>
<path d="M400.00 282.80L400.00 271.45" stroke="#111" stroke-width="1.6" fill="none"/>
<path d="M400.00 265.15L403.70 271.45L396.30 271.45Z" fill="#111"/>
<path d="M439.50 290.50L439.50 302.30" stroke="#111" stroke-width="1.6" fill="none"/>
<path d="M439.50 308.60L435.80 302.30L443.20 302.30Z" fill="#111"/>
<path d="M483.90 335.00L483.90 347.60" stroke="#111" stroke-width="1.6" fill="none"/>
<path d="M483.90 353.90L480.20 347.60L487.60 347.60Z" fill="#111"/>
<path d="M540.75 367.50L540.75 380.05" stroke="#111" stroke-width="1.6" fill="none"/>
<path d="M540.75 386.35L537.05 380.05L544.45 380.05Z" fill="#111"/>
<path d="M360.00 372.50L360.00 362.70" stroke="#111" stroke-width="1.6" fill="none"/>
<path d="M360.00 356.40L363.70 362.70L356.30 362.70Z" fill="#111"/>
<path d="M309.70 413.20L309.70 401.70" stroke="#111" stroke-width="1.6" fill="none"/>
<path d="M309.70 395.40L313.40 401.70L306.00 401.70Z" fill="#111"/>
<path d="M270.00 355.00L255.70 355.00" stroke="#111" stroke-width="1.6" fill="none"/>
<path d="M249.40 355.00L255.70 351.30L255.70 358.70Z" fill="#111"/>
<path d="M220.00 275.00L220.00 287.30" stroke="#111" stroke-width="1.6" fill="none"/>
<path d="M220.00 293.60L216.30 287.30L223.70 287.30Z" fill="#111"/>
<path d="M108.00 352.50L108.00 340.20" stroke="#111" stroke-width="1.6" fill="none"/>
<path d="M108.00 333.90L111.70 340.20L104.30 340.20Z" fill="#111"/>
<path d="M161.75 382.50L161.75 371.20" stroke="#111" stroke-width="1.6" fill="none"/>
<path d="M161.75 364.90L165.45 371.20L158.05 371.20Z" fill="#111"/>
<path d="M255.50 417.60L241.70 417.60" stroke="#111" stroke-width="1.6" fill="none"/>
<path d="M235.40 417.60L241.70 413.90L241.70 421.30Z" fill="#111"/>
<path d="M46.50 320.20L46.50 333.90" stroke="#111" stroke-width="1.6" fill="none"/>
<path d="M46.50 340.20L42.80 333.90L50.20 333.90Z" fill="#111"/>
<path d="M72.20 360.00L72.20 348.00" stroke="#111" stroke-width="1.6" fill="none"/>
<path d="M72.20 341.70L75.90 348.00L68.50 348.00Z" fill="#111"/>
<path d="M23.10 390.60L23.10 376.40" stroke="#111" stroke-width="1.6" fill="none"/>
<path d="M23.10 370.10L26.80 376.40L19.40 376.40Z" fill="#111"/>
</svg>
</body>
</html>
